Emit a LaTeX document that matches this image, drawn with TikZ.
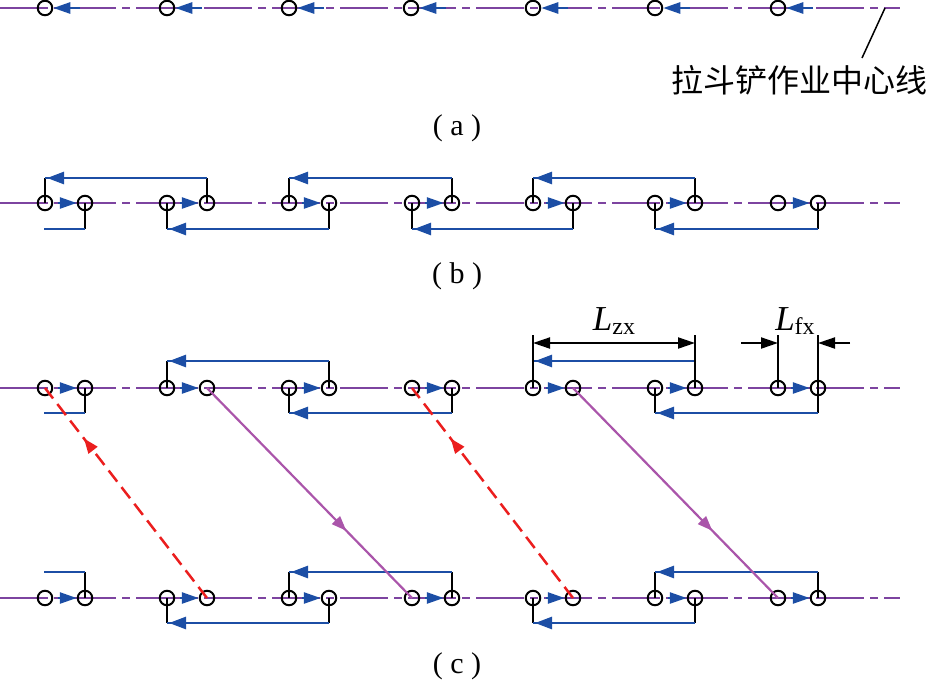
\documentclass[tikz,border=0pt]{standalone}
\usepackage{fontspec}
\setmainfont{Liberation Serif}
\newfontfamily\cjkfont{Noto Sans CJK SC}
\usetikzlibrary{arrows.meta,decorations.markings,calc}
\definecolor{cl}{RGB}{125,68,160}
\definecolor{bl}{RGB}{28,78,165}
\definecolor{rd}{RGB}{235,30,30}
\definecolor{pm}{RGB}{170,85,170}
\newcommand\mkloop[3]{%
  \draw[vl] (#2.center) -- ++(0,#3) coordinate (#2-k);
  \draw[vl] (#1.center) -- ++(0,#3) coordinate (#1-k);
  \draw[loopln] (#2-k) -- (#1-k);
}
\newcommand\mkpart[3]{%
  \draw[vl] (#1.center) -- ++(0,#3) coordinate (#1-k);
  \coordinate (#1-e) at ($(#1-k)+(-41,0)$);
  \draw[hl] (#1-k) -- (#1-e);
}
\begin{document}
\begin{tikzpicture}[x=1pt,y=-1pt,
  pt/.style={circle,draw=black,line width=2pt,minimum size=14.5pt,inner sep=0pt},
  cline/.style={cl,line width=2.3pt,dash pattern=on 48pt off 6pt on 8pt off 6pt},
  vl/.style={black,line width=2pt},
  hl/.style={bl,line width=2.6pt},
  loopln/.style={hl,postaction={decorate},decoration={markings,mark=at position -2pt with {\arrow{Triangle[length=17pt,width=12pt]}}}},
  pairarr/.style={hl,shorten <=5pt,-{Triangle[length=17pt,width=11pt]}},
  aarr/.style={hl,-{Triangle[length=17pt,width=11pt]}},
  rdln/.style={rd,line width=2.5pt,dash pattern=on 14pt off 7pt,postaction={decorate},decoration={markings,mark=at position 0.76 with {\arrow{Triangle[length=15pt,width=11pt]}}}},
  pmln/.style={pm,line width=2.2pt,postaction={decorate},decoration={markings,mark=at position 0.68 with {\arrow{Triangle[length=15pt,width=11pt]}}}},
  dimln/.style={black,line width=2pt},
  captxt/.style={anchor=base,inner sep=0pt,font=\fontsize{30pt}{32pt}\selectfont},
  dimlbl/.style={anchor=base,inner sep=0pt,font=\fontsize{35pt}{37pt}\selectfont}
]
\useasboundingbox (0,0) rectangle (932,681);

% centre lines
\foreach \n/\y in {a/8,b/203,t/388,u/598}{
  \coordinate (\n W) at (0,\y);
  \coordinate (\n E) at (900,\y);
  \draw[cline] (\n W) -- (\n E);
}

% ---------- (a) ----------
\foreach \i/\x in {1/45,2/167,3/289,4/411,5/533,6/655,7/778}{
  \node[pt] (a\i) at (\x,8) {};
  \coordinate (aS\i) at (\x+35,8);
  \draw[aarr] (aS\i) -- (a\i);
}
\coordinate (ld1) at (885,8);
\coordinate (ld2) at (862,58);
\draw[line width=1.5pt] (ld1) -- (ld2);
\node[anchor=west,inner sep=0pt,font=\cjkfont\fontsize{32pt}{34pt}\selectfont] (lbl) at (671,80) {拉斗铲作业中心线};
\node[captxt] (capa) at (457,135) {( a )};

% ---------- nodes of (b) and (c) ----------
\foreach \i/\x in {1/45,2/167,3/289,4/412,5/533,6/655,7/778}{
  \node[pt] (bL\i) at (\x,203) {};
  \node[pt] (bR\i) at (\x+40,203) {};
  \node[pt] (tL\i) at (\x,388) {};
  \node[pt] (tR\i) at (\x+40,388) {};
  \node[pt] (uL\i) at (\x,598) {};
  \node[pt] (uR\i) at (\x+40,598) {};
  \draw[pairarr] (bL\i) -- (bR\i);
  \draw[pairarr] (tL\i) -- (tR\i);
  \draw[pairarr] (uL\i) -- (uR\i);
}

% ---------- (b) ----------
\mkloop{bL1}{bR2}{-25}
\mkloop{bL3}{bR4}{-25}
\mkloop{bL5}{bR6}{-25}
\mkpart{bR1}{}{26}
\mkloop{bL2}{bR3}{26}
\mkloop{bL4}{bR5}{26}
\mkloop{bL6}{bR7}{26}
\node[captxt] (capb) at (457,283) {( b )};

% ---------- (c) top ----------
\mkloop{tL2}{tR3}{-27}
\mkloop{tL5}{tR6}{-27}
\mkpart{tR1}{}{25}
\mkloop{tL3}{tR4}{25}
\mkloop{tL6}{tR7}{25}

% ---------- (c) bottom ----------
\mkpart{uR1}{}{-26}
\mkloop{uL3}{uR4}{-26}
\mkloop{uL6}{uR7}{-26}
\mkloop{uL2}{uR3}{25}
\mkloop{uL5}{uR6}{25}

% diagonals
\draw[rdln] (uR2.center) -- (tL1.center);
\draw[rdln] (uR5.center) -- (tL4.center);
\draw[pmln] (tR2.center) -- (uL4.center);
\draw[pmln] (tR5.center) -- (uL7.center);

% dimensions
\draw[dimln] (tL5.center) -- ++(0,-53) coordinate (e1);
\draw[dimln] (tR6.center) -- ++(0,-53) coordinate (e2);
\draw[dimln] (tL7.center) -- ++(0,-53) coordinate (e3);
\draw[dimln] (tR7.center) -- ++(0,-53) coordinate (e4);
\coordinate (d1) at ($(e1)+(0,8)$);
\coordinate (d2) at ($(e2)+(0,8)$);
\coordinate (d3) at ($(e3)+(0,8)$);
\coordinate (d4) at ($(e4)+(0,8)$);
\draw[dimln,{Triangle[length=17pt,width=11pt]}-{Triangle[length=17pt,width=11pt]}] (d1) -- (d2);
\coordinate (f1) at ($(d3)+(-37,0)$);
\coordinate (f2) at ($(d4)+(32,0)$);
\draw[dimln,-{Triangle[length=17pt,width=11pt]}] (f1) -- (d3);
\draw[dimln,-{Triangle[length=17pt,width=11pt]}] (f2) -- (d4);
\node[dimlbl] (lzx) at ($(d1)!0.5!(d2)+(0,-13)$) {\textit{L}\raisebox{-4pt}{\fontsize{24pt}{24pt}\selectfont zx}};
\node[dimlbl] (lfx) at ($(d3)!0.5!(d4)+(-3,-13)$) {\textit{L}\raisebox{-4pt}{\fontsize{24pt}{24pt}\selectfont fx}};

\node[captxt] (capc) at (457,673) {( c )};
\end{tikzpicture}
\end{document}
